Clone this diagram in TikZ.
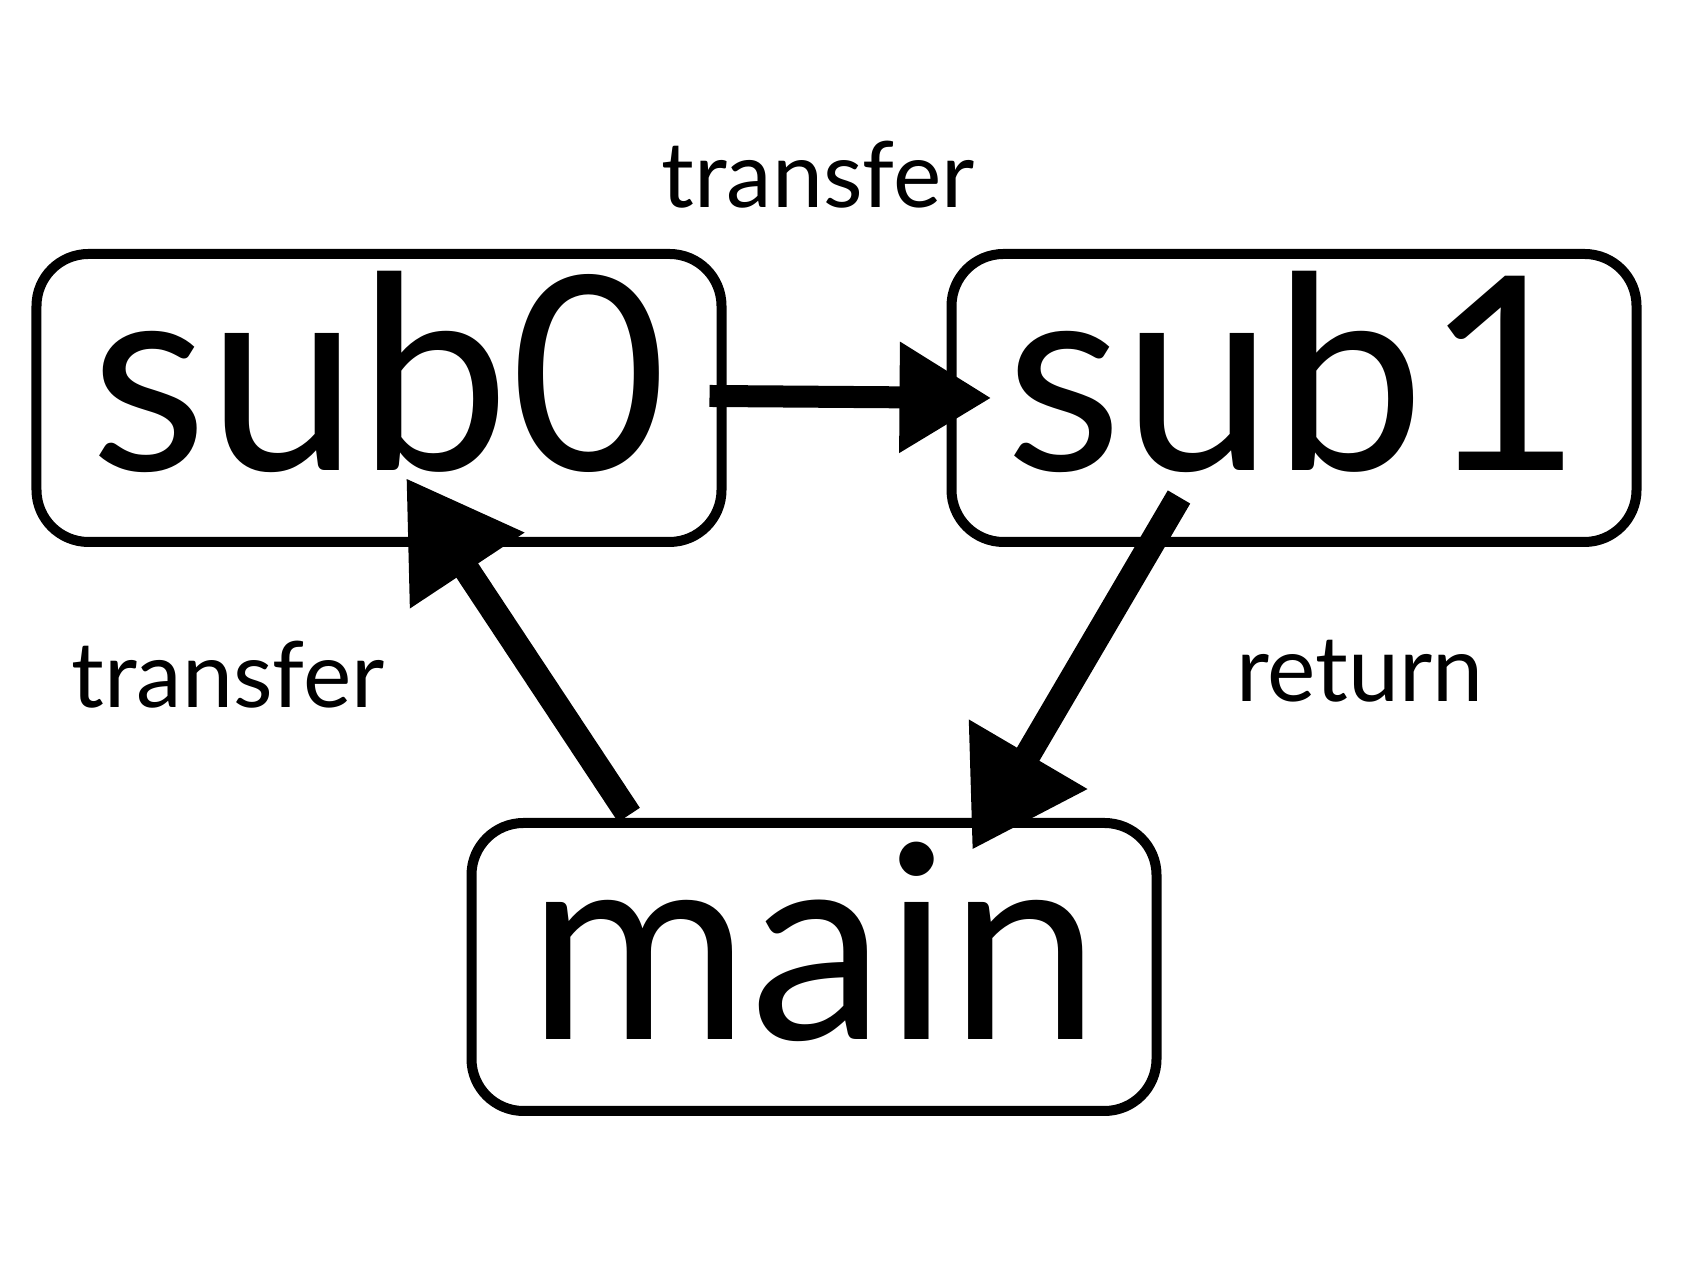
\documentclass[tikz,border=0pt]{standalone}
\usepackage{fontspec}
\setmainfont{Lato}
\usetikzlibrary{arrows.meta,positioning,calc}

\begin{document}
\begin{tikzpicture}[
	proc node/.style={rectangle,rounded corners=0.52cm,draw,line width=0.1cm,
		inner sep=0pt,outer sep=0pt,minimum width=6.85cm,minimum height=2.88cm,
		font=\fontsize{77}{77}\selectfont,text height=2.0cm,text depth=0.54cm},
	edge label/.style={font=\fontsize{26}{26}\selectfont,inner sep=0pt,anchor=base},
	thin flow/.style={-{Triangle[length=0.92cm,width=1.05cm]},line width=0.22cm},
	thick flow/.style={-{Triangle[length=1.11cm,width=1.30cm]},line width=0.26cm}]

    \fill[white] (0,0) rectangle (16.98,12.74);
    \useasboundingbox (0,0) rectangle (16.98,12.74);

    \node[proc node] (sub0) at (3.79,8.76) {sub0};
    \node[proc node] (sub1) [right = 2.3cm of sub0] {sub1};
    \node[proc node] (main) at (8.14,3.07) {main};

    \node[edge label] (t0) at (8.18,10.66) {transfer};
    \node[edge label] (t1) at (2.28,5.66) {transfer};
    \node[edge label] (r0) at (13.60,5.72) {return};

    \draw[thin flow] ([shift={(-0.12,0.02)}]sub0.east) -- ([xshift=0.40cm]sub1.west);
    \draw[thick flow] ([shift={(-1.85,0.08)}]main.north) -- ([shift={(0.27,0.64)}]sub0.south);
    \draw[thick flow] ([shift={(-1.15,0.45)}]sub1.south) -- ([shift={(1.58,-0.27)}]main.north);

\end{tikzpicture}
\end{document}
